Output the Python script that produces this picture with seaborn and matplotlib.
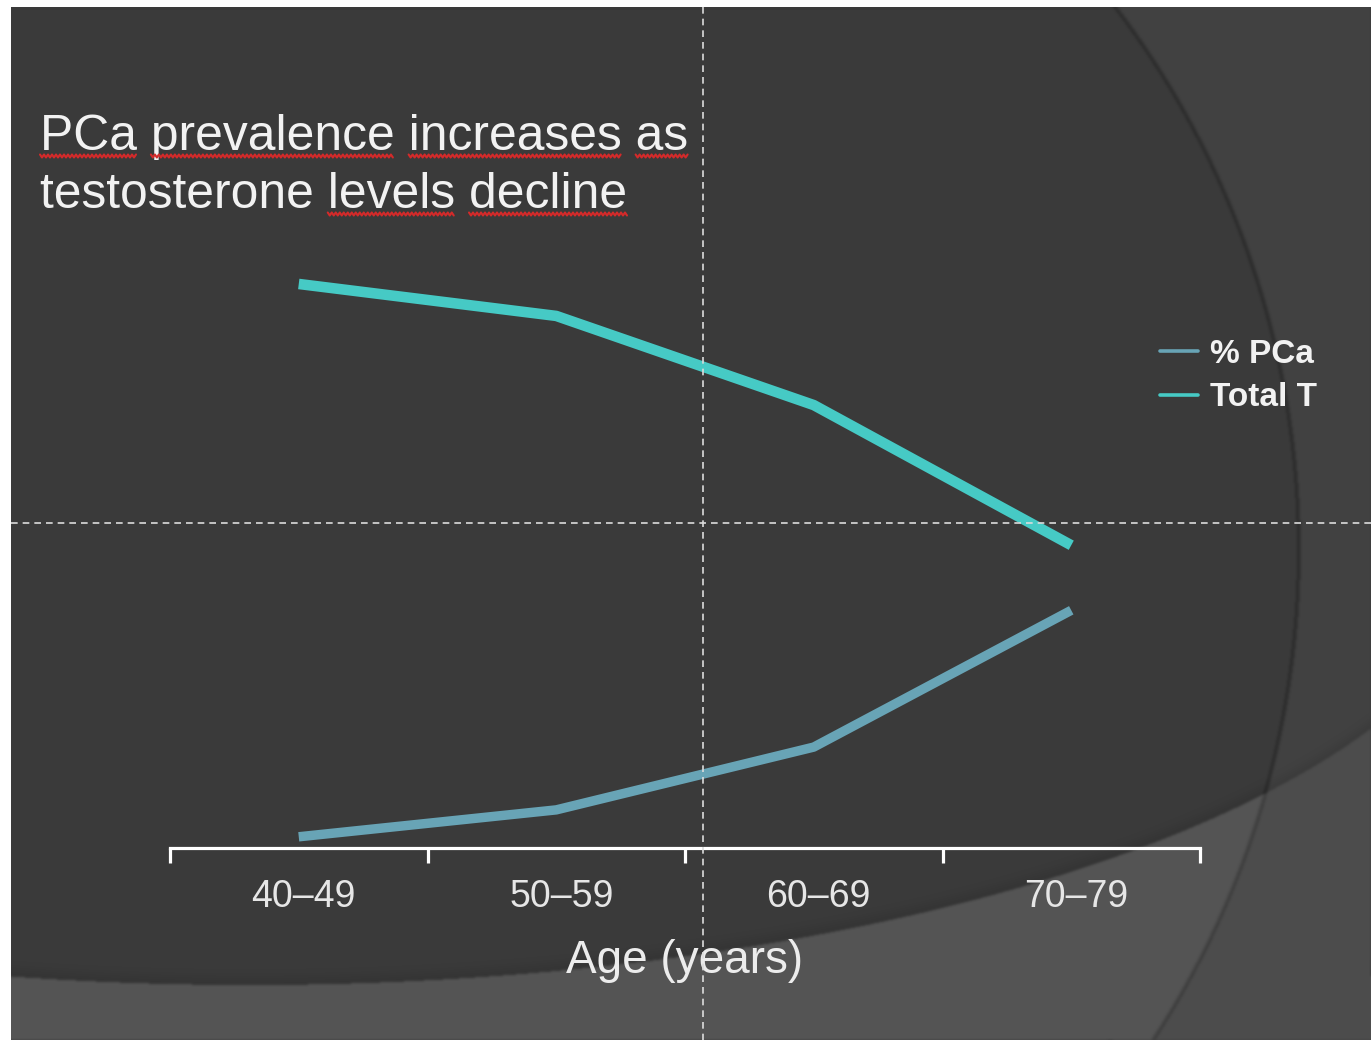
import numpy as np
import pandas as pd
import matplotlib
matplotlib.use("Agg")
import matplotlib.pyplot as plt
import matplotlib.transforms as mtransforms
import seaborn as sns
from matplotlib.lines import Line2D

# ---- data -------------------------------------------------------------
age_groups = ["40–49", "50–59", "60–69", "70–79"]
total_t = [100.6, 94.9, 79.0, 54.0]      # relative total testosterone level
pct_pca = [2.0, 6.8, 18.0, 42.4]         # relative PCa prevalence
series_names = ["% PCa", "Total T"]

title_lines = ["PCa prevalence increases as", "testosterone levels decline"]
flagged_words = [["PCa", "prevalence", "increases", "as"], ["levels", "decline"]]
x_label = "Age (years)"

pca_color = "#68a4b6"
t_color = "#46cac5"

df = pd.DataFrame({
    "age": age_groups * 2,
    "value": pct_pca + total_t,
    "series": [series_names[0]] * len(pct_pca) + [series_names[1]] * len(total_t),
})

# ---- style ------------------------------------------------------------
sns.set_theme(style="white")
plt.rcParams["font.family"] = ["Liberation Sans", "DejaVu Sans"]

W, H = 1371, 1040
fig = plt.figure(figsize=(W / 100, H / 100), dpi=100)

# ---- slide background -------------------------------------------------
bg = fig.add_axes([0, 0, 1, 1])
yy, xx = np.mgrid[0:H, 0:W] + 0.5
r = np.hypot(xx - 404, yy - 550)
inside = r < 895
yb = 525 + 460 * np.sqrt(np.clip(1 - ((xx - 250) / 1250) ** 2, 0, None))
lower = yy > yb
gray = np.empty((H, W))
gray[~lower & inside] = 0x3a
gray[~lower & ~inside] = 0x41
gray[lower & inside] = 0x54
gray[lower & ~inside] = 0x4c
band = (~lower) & (yb - yy < 14)
gray[band] -= 6 * (1 - (yb - yy)[band] / 14)
gray = np.where(np.abs(r - 895) < 2.0, gray - 14, gray)
for _ in range(2):
    acc = np.zeros_like(gray)
    for dy in (-1, 0, 1):
        for dx in (-1, 0, 1):
            acc += np.roll(np.roll(gray, dy, axis=0), dx, axis=1)
    gray = acc / 9
rgb = np.repeat((gray / 255.0)[:, :, None], 3, axis=2)
rgb[:7, :, :] = 1.0
rgb[:, :11, :] = 1.0
bg.imshow(rgb, extent=(0, W, H, 0), interpolation="nearest", aspect="auto")
bg.set_xlim(0, W)
bg.set_ylim(H, 0)
bg.axis("off")

# ---- chart ------------------------------------------------------------
ax = fig.add_axes([170 / W, (H - 848) / H, 1030 / W, 841 / H])
ax.patch.set_alpha(0)

sns.lineplot(data=df[df["series"] == "Total T"], x="age", y="value", ax=ax,
             color=t_color, linewidth=7.6, sort=False, legend=False,
             solid_capstyle="butt", solid_joinstyle="round")
sns.lineplot(data=df[df["series"] == "% PCa"], x="age", y="value", ax=ax,
             color=pca_color, linewidth=6.8, sort=False, legend=False,
             solid_capstyle="butt", solid_joinstyle="round")

ax.set_xlim(-0.5, 3.5)
ax.set_ylim(0, 150)
for side in ("left", "right", "top"):
    ax.spines[side].set_visible(False)
ax.spines["bottom"].set_color("white")
ax.spines["bottom"].set_linewidth(2.3)

ax.set_yticks([])
ax.set_xticks([-0.5, 0.5, 1.5, 2.5, 3.5])
ax.set_xticklabels([])
ax.set_xticks(range(len(age_groups)), minor=True)
ax.set_xticklabels(age_groups, minor=True)
ax.tick_params(axis="x", which="major", direction="out", length=11, width=2.3,
               color="white", bottom=True)
ax.tick_params(axis="x", which="minor", length=0, pad=22, labelsize=27,
               labelcolor="#e6e6e6", bottom=True)
shift = mtransforms.ScaledTranslation(5 / 100, 0, fig.dpi_scale_trans)
for lab in ax.get_xticklabels(minor=True):
    lab.set_transform(lab.get_transform() + shift)

ax.set_xlabel(x_label, fontsize=33, color="#ececec", va="baseline")
ax.xaxis.set_label_coords(0.5, -(973 - 848) / 841)
ax.set_ylabel("")

handles = [Line2D([0], [0], color=pca_color, lw=2.6),
           Line2D([0], [0], color=t_color, lw=2.6)]
ax.legend(handles, series_names, loc="center left",
          bbox_to_anchor=(1160 / W, 1 - 376 / H), bbox_transform=fig.transFigure,
          frameon=False, prop={"weight": "bold", "size": 24}, labelcolor="#f2f2f2",
          handlelength=1.15, handletextpad=0.36, borderpad=0, borderaxespad=0,
          labelspacing=0.38)

# ---- overlay: guides and heading --------------------------------------
ov = fig.add_axes([0, 0, 1, 1])
ov.patch.set_alpha(0)
ov.set_xlim(0, W)
ov.set_ylim(H, 0)
ov.axis("off")

ov.plot([703, 703], [7, H], color="#dcdcdc", lw=1.2, dashes=(4, 3), zorder=5)
ov.plot([11, W], [523, 523], color="#dcdcdc", lw=1.2, dashes=(4, 3), zorder=5)

renderer = fig.canvas.get_renderer()
title_kw = dict(fontsize=35.8, color="#f2f2f2", va="baseline", ha="left")


def text_width(s):
    t = ov.text(0, 0, s, **title_kw)
    w = t.get_window_extent(renderer).width
    t.remove()
    return w


x0 = 40
for line, base, words in zip(title_lines, [150, 208], flagged_words):
    ov.text(x0, base, line, zorder=6, **title_kw)
    pos = 0
    for word in line.split(" "):
        start_idx = line.index(word, pos)
        end_idx = start_idx + len(word)
        pos = end_idx
        if word not in words:
            continue
        x_end = x0 + text_width(line[:end_idx])
        x_start = x_end - text_width(word)
        zx = np.arange(x_start, x_end + 0.1, 2.0)
        zy = base + 6 + np.where(np.arange(len(zx)) % 2 == 0, -1.5, 1.5)
        ov.plot(zx, zy, color="#d42a2a", lw=1.5, zorder=6)

fig.savefig("out.png", dpi=100)
